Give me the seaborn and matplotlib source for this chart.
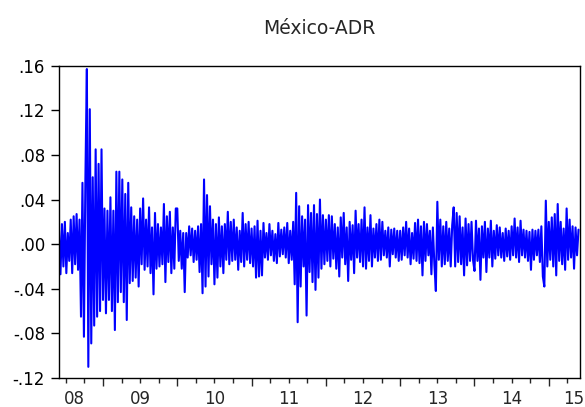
import numpy as np
import pandas as pd
import matplotlib
matplotlib.use("Agg")
import matplotlib.pyplot as plt
import seaborn as sns

# ---------------- data ----------------
title = "México-ADR"
year_labels = ["08", "09", "10", "11", "12", "13", "14", "15"]
label_pos = [2008.62, 2009.5, 2010.5, 2011.5, 2012.5, 2013.5, 2014.5, 2015.34]
data_start, data_end = 2008.408, 2015.42
y_ticks = [-0.12, -0.08, -0.04, 0.00, 0.04, 0.08, 0.12, 0.16]
y_tick_labels = ["-.12", "-.08", "-.04", ".00", ".04", ".08", ".12", ".16"]

ret_2008 = [12, -27, 18, -20, 20, -26, 10, -15, 22, -26, 25, -18, 27, -23, 22,
            -65, 55, -83, 58, 157, -110, 121, -89, 60, -73, 85, -65, 72, -60, 85]
ret_2009 = [-50, 32, -62, 30, -50, 42, -60, 30, -77, 65, -52, 65, -43, 58, -52,
            45, -68, 55, -35, 33, -33, 25, -30, 22, -38, 32, -18, 41, -23, 22,
            -20, 33, -26, 15, -45, 28, -22, 18, -20, 15, -18, 36, -34, 25, -16,
            29, -26, 15, -22, 32]
ret_2010 = [32, -15, 12, -22, 10, -43, 10, -12, 16, -10, 14, -16, 12, -14, 16,
            -25, 18, -44, 58, -38, 44, -29, 34, -18, 22, -36, 18, -30, 24, -20,
            16, -26, 18, -14, 29, -18, 20, -15, 22, -14, 15, -23, 12, -16, 28,
            -20, 18, -14, 20, -17]
ret_2011 = [14, -20, 16, -30, 21, -29, 12, -28, 19, -12, 10, -14, 18, -10, 12,
            -15, 9, -17, 19, -11, 13, -9, 15, -12, 19, -17, 12, -14, 20, -36,
            46, -70, 34, -38, 25, -20, 22, -64, 35, -25, 28, -34, 35, -41, 27,
            -30, 40, -22, 26, -18]
ret_2012 = [22, -15, 26, -20, 25, -13, 18, -22, 15, -29, 24, -12, 28, -18, 15,
            -33, 20, -14, 17, -26, 30, -12, 18, -16, 22, -20, 33, -22, 15, -15,
            26, -20, 14, -12, 18, -15, 22, -14, 20, -10, 12, -12, 15, -20, 13,
            -9, 14, -12, 12, -15]
ret_2013 = [12, -14, 15, -10, 20, -12, 14, -18, 10, -13, 19, -15, 22, -17, 16,
            -28, 20, -15, 18, -10, 12, -27, 15, -18, -42, 38, -14, 22, -20, 16,
            -18, 20, -15, 14, -20, 17, 33, -20, 28, -16, 25, -18, 15, -28, 23,
            -19, 18, -15, 20, -14]
ret_2014 = [-24, 21, -15, 14, -32, 16, -12, 20, -25, 14, -12, 21, -20, 12, -13,
            17, -10, 15, -12, 10, -15, 14, -11, 12, -14, 16, -10, 23, -12, 15,
            -16, 21, -10, 13, -12, 12, -15, 11, -23, 13, -14, 12, -10, 13, -16,
            16, -29, -38, 39, -20]
ret_2015 = [20, -14, 24, -20, 27, -28, 36, -15, 20, -18, 14, -23, 32, -14, 22,
            -12, 16, -22, 15, -10, 13]

segments = {2008: ret_2008, 2009: ret_2009, 2010: ret_2010, 2011: ret_2011,
            2012: ret_2012, 2013: ret_2013, 2014: ret_2014, 2015: ret_2015}

xs, ys = [], []
for yr, vals in segments.items():
    lo = max(yr, data_start)
    hi = min(yr + 1, data_end)
    n = len(vals)
    for k, v in enumerate(vals):
        xs.append(lo + (hi - lo) * k / n)
        ys.append(v / 1000.0)
df = pd.DataFrame({"date": xs, "ret": ys})

# ---------------- plot ----------------
sns.set_style("ticks")
plt.rcParams["font.family"] = ["DejaVu Sans"]

fig = plt.figure(figsize=(5.85, 4.07), dpi=100)
ax = fig.add_axes([59 / 585, 1 - 378 / 407, 521 / 585, (378 - 65.7) / 407])

sns.lineplot(data=df, x="date", y="ret", ax=ax, color="#0000ff",
             linewidth=1.5, estimator=None, sort=False)

ax.set_xlim(data_start, data_end)
ax.set_ylim(-0.12, 0.16)
ax.set_xlabel("")
ax.set_ylabel("")

ax.set_yticks(y_ticks)
ax.set_yticklabels(y_tick_labels, fontsize=12)
ax.tick_params(axis="y", direction="out", length=6, width=1, pad=4, colors="black")

major_x = [2009, 2010, 2011, 2012, 2013, 2014, 2015]
minor_x = [q for q in np.arange(2008.5, 2015.5, 0.25) if abs(q - round(q)) > 1e-6]
ax.set_xticks(major_x)
ax.set_xticks(minor_x, minor=True)
ax.tick_params(axis="x", which="major", direction="out", length=5.8, width=1,
               labelbottom=False)
ax.tick_params(axis="x", which="minor", direction="out", length=3.6, width=1)

sec = ax.secondary_xaxis("bottom")
sec.set_xticks(label_pos)
sec.set_xticklabels(year_labels, fontsize=12)
sec.tick_params(length=0, pad=9)
sec.spines["bottom"].set_visible(False)

for s in ax.spines.values():
    s.set_visible(True)
    s.set_color("black")
    s.set_linewidth(1.0)

ax.set_title(title, fontsize=13.5, pad=23)

fig.savefig("out.png", dpi=100)
